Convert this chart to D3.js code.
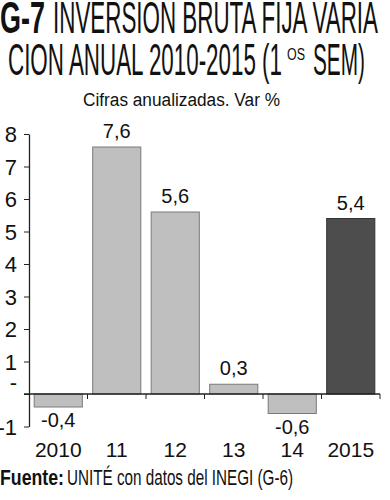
<!DOCTYPE html>
<html><head><meta charset="utf-8">
<script src="https://cdn.jsdelivr.net/npm/d3@7"></script>
<style>
html,body{margin:0;padding:0;background:#fff;}
svg{display:block;}
text{font-family:"Liberation Sans Narrow","Arial Narrow","Liberation Sans",Arial,sans-serif;fill:#111;}
</style></head>
<body>
<svg id="chart" width="390" height="500"></svg>
<script>
const categories = ["2010","11","12","13","14","2015"];
const values = [-0.4, 7.6, 5.6, 0.3, -0.6, 5.4];
const valueLabels = ["-0,4","7,6","5,6","0,3","-0,6","5,4"];
const yTicks = [-1,0,1,2,3,4,5,6,7,8];
const highlight = "2015";

const svg = d3.select("#chart");

const x = d3.scaleBand().domain(categories).range([29,380]).paddingInner(0.16).paddingOuter(0.08);
const y = d3.scaleLinear().domain([-1,8]).range([426.5,134]);

// Title
svg.append("text").attr("x",0).attr("y",33).attr("font-size",44).attr("font-weight",900)
  .attr("textLength",45).attr("lengthAdjust","spacingAndGlyphs").style("font-family","'Liberation Sans','Arial',sans-serif").text("G-7");
svg.append("text").attr("x",53).attr("y",33).attr("font-size",44)
  .attr("textLength",325).attr("lengthAdjust","spacingAndGlyphs").text("INVERSIÓN BRUTA FIJA VARIA");
svg.append("text").attr("x",8).attr("y",75).attr("font-size",44)
  .attr("textLength",274).attr("lengthAdjust","spacingAndGlyphs").text("CION ANUAL 2010-2015 (1");
svg.append("text").attr("x",287).attr("y",60).attr("font-size",16)
  .attr("textLength",18).attr("lengthAdjust","spacingAndGlyphs").text("OS");
svg.append("text").attr("x",313).attr("y",75).attr("font-size",44)
  .attr("textLength",52).attr("lengthAdjust","spacingAndGlyphs").text("SEM)");
svg.append("text").attr("x",83).attr("y",106).attr("font-size",18)
  .attr("textLength",197).attr("lengthAdjust","spacingAndGlyphs").text("Cifras anualizadas. Var %");

// Bars
svg.append("g").selectAll("rect").data(categories).join("rect")
  .attr("x",d=>x(d)+0.5)
  .attr("width",x.bandwidth()-1)
  .attr("y",(d,i)=>y(Math.max(0,values[i])))
  .attr("height",(d,i)=>Math.abs(y(values[i])-y(0)))
  .attr("fill",d=>d===highlight?"#4d4d4d":"#bfbfbf")
  .attr("stroke",d=>d===highlight?"#333":"#7a7a7a")
  .attr("stroke-width",1);

// Y axis
const yAxis = d3.axisLeft(y).tickValues(yTicks).tickSize(5).tickSizeOuter(0).tickPadding(7)
  .tickFormat(d=>d===0?"-":String(d));
const gy = svg.append("g").attr("transform","translate(29,0)").call(yAxis);
gy.select(".domain").attr("stroke","#222").attr("stroke-width",1.3);
gy.selectAll(".tick line").attr("stroke","#222");
gy.selectAll(".tick text").attr("font-size",22).attr("fill","#111")
  .style("font-family","'Liberation Sans Narrow','Liberation Sans',sans-serif")
  .attr("dy",d=>d===0?"-0.2em":"0.35em");

// Zero line and boundary ticks
svg.append("line").attr("x1",24).attr("x2",380).attr("y1",y(0)).attr("y2",y(0))
  .attr("stroke","#222").attr("stroke-width",1.3);
svg.append("g").selectAll("line").data(categories).join("line")
  .attr("x1",d=>x(d)+x.bandwidth()+x.step()*x.paddingInner()/2)
  .attr("x2",d=>x(d)+x.bandwidth()+x.step()*x.paddingInner()/2)
  .attr("y1",y(0)).attr("y2",y(0)+5).attr("stroke","#222");

// Value labels
svg.append("g").selectAll("text").data(categories).join("text")
  .attr("x",d=>x(d)+x.bandwidth()/2)
  .attr("y",(d,i)=>values[i]>=0 ? y(values[i])-9 : y(values[i])+20)
  .attr("text-anchor","middle").attr("font-size",20)
  .text((d,i)=>valueLabels[i]);

// Category labels
svg.append("g").selectAll("text").data(categories).join("text")
  .attr("x",d=>x(d)+x.bandwidth()/2).attr("y",457)
  .attr("text-anchor","middle").attr("font-size",21)
  .text(d=>d);

// Footer
svg.append("text").attr("x",0).attr("y",485).attr("font-size",22).attr("font-weight",700)
  .attr("textLength",64).attr("lengthAdjust","spacingAndGlyphs").text("Fuente:");
svg.append("text").attr("x",67).attr("y",485).attr("font-size",22)
  .attr("textLength",226).attr("lengthAdjust","spacingAndGlyphs").text("UNITÉ con datos del INEGI (G-6)");
</script>
</body></html>
